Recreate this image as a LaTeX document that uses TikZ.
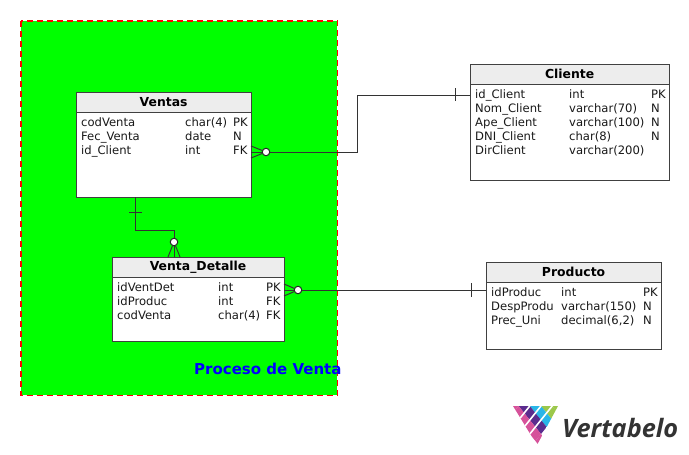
\documentclass[tikz,border=0pt]{standalone}
\usepackage{fontspec}
\setmainfont{DejaVu Sans}
\newfontfamily\logofont{Open Sans}
\definecolor{logopink}{HTML}{D6529A}
\definecolor{logopurple}{HTML}{5B2C8E}
\definecolor{logocyan}{HTML}{29B6E8}
\definecolor{logogreen}{HTML}{9CC84B}
\newcommand{\logocell}[3]{\fill[#1] (#2-5.6,#3) -- (#2,#3-7) -- (#2+5.6,#3) -- (#2,#3+7) -- cycle;}
\tikzset{
  tbody/.style={draw=black!75,fill=white,line width=1.2pt,minimum width=#1,inner sep=0pt,anchor=north west},
  thead/.style={draw=black!75,fill=black!7,line width=1.2pt,minimum width=#1,minimum height=20pt,inner sep=0pt,anchor=north west,font=\fontsize{12.4}{14}\selectfont\bfseries},
  cell/.style={anchor=base west,inner sep=0pt,font=\fontsize{11.6}{13}\selectfont,text=black!90},
  rel/.style={draw=black!80,line width=1pt},
  crowdot/.style={circle,draw=black!85,fill=white,line width=1pt,inner sep=0pt,minimum size=7.5pt},
  logogap/.style={draw=white,line width=1.6pt},
}
\begin{document}
\begin{tikzpicture}[x=1pt,y=-1pt]
    \useasboundingbox (0,0) rectangle (689,455);%

    \fill[white] (0,0) rectangle (689,455);%
    \node[fill=green,minimum width=316pt,minimum height=374pt,inner sep=0pt,anchor=north west] (Zona) at (21,21) {};%
    \draw[red,dash pattern=on 6pt off 4pt,line width=1.6pt] (Zona.north west) rectangle (Zona.south east);%

    % Ventas
    \node[tbody=175pt,minimum height=105pt] (Ventas) at (75.5,91.5) {};%
    \node[thead=175pt] (VentasH) at (75.5,91.5) {Ventas};%
    \node[cell] (V1a) at (81,126) {codVenta};%
    \node[cell] (V1b) at (185,126) {char(4)};%
    \node[cell] (V1c) at (233,126) {PK};%
    \node[cell] (V2a) at (81,140) {Fec\_Venta};%
    \node[cell] (V2b) at (185,140) {date};%
    \node[cell] (V2c) at (233,140) {N};%
    \node[cell] (V3a) at (81,154) {id\_Client};%
    \node[cell] (V3b) at (185,154) {int};%
    \node[cell] (V3c) at (233,154) {FK};%

    % Venta_Detalle
    \node[tbody=172pt,minimum height=84pt] (Detalle) at (111.5,256.5) {};%
    \node[thead=172pt] (DetalleH) at (111.5,256.5) {Venta\_Detalle};%
    \node[cell] (D1a) at (117,291) {idVentDet};%
    \node[cell] (D1b) at (218,291) {int};%
    \node[cell] (D1c) at (266,291) {PK};%
    \node[cell] (D2a) at (117,305) {idProduc};%
    \node[cell] (D2b) at (218,305) {int};%
    \node[cell] (D2c) at (266,305) {FK};%
    \node[cell] (D3a) at (117,319) {codVenta};%
    \node[cell] (D3b) at (218,319) {char(4)};%
    \node[cell] (D3c) at (266,319) {FK};%

    % Cliente
    \node[tbody=199pt,minimum height=116pt] (Cliente) at (469.5,63.5) {};%
    \node[thead=199pt] (ClienteH) at (469.5,63.5) {Cliente};%
    \node[cell] (C1a) at (475,98) {id\_Client};%
    \node[cell] (C1b) at (569,98) {int};%
    \node[cell] (C1c) at (651,98) {PK};%
    \node[cell] (C2a) at (475,112) {Nom\_Client};%
    \node[cell] (C2b) at (569,112) {varchar(70)};%
    \node[cell] (C2c) at (651,112) {N};%
    \node[cell] (C3a) at (475,126) {Ape\_Client};%
    \node[cell] (C3b) at (569,126) {varchar(100)};%
    \node[cell] (C3c) at (651,126) {N};%
    \node[cell] (C4a) at (475,140) {DNI\_Client};%
    \node[cell] (C4b) at (569,140) {char(8)};%
    \node[cell] (C4c) at (651,140) {N};%
    \node[cell] (C5a) at (475,154) {DirClient};%
    \node[cell] (C5b) at (569,154) {varchar(200)};%

    % Producto
    \node[tbody=175pt,minimum height=87pt] (Producto) at (485.5,261.5) {};%
    \node[thead=175pt] (ProductoH) at (485.5,261.5) {Producto};%
    \node[cell] (P1a) at (491,296) {idProduc};%
    \node[cell] (P1b) at (561,296) {int};%
    \node[cell] (P1c) at (643,296) {PK};%
    \node[cell] (P2a) at (491,310) {DespProdu};%
    \node[cell] (P2b) at (561,310) {varchar(150)};%
    \node[cell] (P2c) at (643,310) {N};%
    \node[cell] (P3a) at (491,324) {Prec\_Uni};%
    \node[cell] (P3b) at (561,324) {decimal(6,2)};%
    \node[cell] (P3c) at (643,324) {N};%

    % Ventas - Cliente
    \node[crowdot] (O1) at (266,152) {};%
    \coordinate (A1) at (251,146);%
    \coordinate (A2) at (251,152);%
    \coordinate (A3) at (251,158);%
    \coordinate (E1) at (470,95);%
    \coordinate (M1) at (357,152);%
    \coordinate (B1) at (455,88);%
    \coordinate (B2) at (455,101);%
    \draw[rel] (O1) -- (M1) |- (E1);%
    \draw[rel] (A1) -- (O1);%
    \draw[rel] (A2) -- (O1);%
    \draw[rel] (A3) -- (O1);%
    \draw[rel] (B1) -- (B2);%

    % Ventas - Venta_Detalle
    \node[crowdot] (O2) at (174,242) {};%
    \coordinate (F1) at (168,257);%
    \coordinate (F2) at (174,257);%
    \coordinate (F3) at (180,257);%
    \coordinate (S2) at (135,197);%
    \coordinate (M2) at (135,230);%
    \coordinate (M3) at (174,230);%
    \coordinate (G1) at (129,212);%
    \coordinate (G2) at (142,212);%
    \draw[rel] (S2) -- (M2) -- (M3) -- (O2);%
    \draw[rel] (F1) -- (O2);%
    \draw[rel] (F2) -- (O2);%
    \draw[rel] (F3) -- (O2);%
    \draw[rel] (G1) -- (G2);%

    % Venta_Detalle - Producto
    \node[crowdot] (O3) at (298,290) {};%
    \coordinate (H1) at (284,284);%
    \coordinate (H2) at (284,290);%
    \coordinate (H3) at (284,296);%
    \coordinate (E3) at (486,290);%
    \coordinate (J1) at (471,283);%
    \coordinate (J2) at (471,297);%
    \draw[rel] (O3) -- (E3);%
    \draw[rel] (H1) -- (O3);%
    \draw[rel] (H2) -- (O3);%
    \draw[rel] (H3) -- (O3);%
    \draw[rel] (J1) -- (J2);%

    \node[anchor=base west,inner sep=0pt,text=blue,font=\fontsize{15}{17}\selectfont\bfseries] (Titulo) at (194,374) {Proceso de Venta};%

    % logo
    \begin{scope}
      \clip (513,406) -- (558,406) -- (537,445) -- cycle;%
      \logocell{logopink}{513}{406}%
      \logocell{logopurple}{524.2}{406}%
      \logocell{logocyan}{535.4}{406}%
      \logocell{logogreen}{546.6}{406}%
      \logocell{logogreen}{557.8}{406}%
      \logocell{logopink}{518.6}{413}%
      \logocell{logopurple}{529.8}{413}%
      \logocell{logocyan}{541}{413}%
      \logocell{logogreen}{552.2}{413}%
      \logocell{logopink}{524.2}{420}%
      \logocell{logopurple}{535.4}{420}%
      \logocell{logocyan}{546.6}{420}%
      \logocell{logopink}{529.8}{427}%
      \logocell{logopurple}{541}{427}%
      \logocell{logopink}{535.4}{434}%
      \logocell{logopink}{541}{441}%
      \draw[logogap] (529.8,406) -- ++(-40,50);%
      \draw[logogap] (541,406) -- ++(-40,50);%
      \draw[logogap] (552.2,406) -- ++(-40,50);%
    \end{scope}
    \node[anchor=base west,inner sep=0pt,text=black!80,font=\logofont\fontsize{25.3}{27}\selectfont\bfseries\itshape] (Marca) at (562,437) {Vertabelo};%
\end{tikzpicture}
\end{document}
